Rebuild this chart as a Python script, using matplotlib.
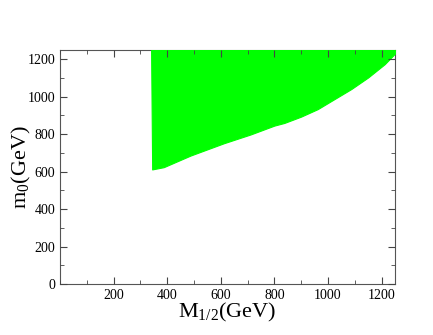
import matplotlib
matplotlib.use("Agg")
import matplotlib.pyplot as plt
from matplotlib.ticker import MultipleLocator

# lower edge of the allowed region
m_half = [340, 344, 387, 487, 612, 712, 800, 837, 900, 962, 1025, 1087, 1150, 1212, 1250]
m0_low = [1250, 612, 624, 686, 752, 799, 846, 860, 894, 934, 988, 1041, 1103, 1174, 1230]

plt.rcParams['font.family'] = ['Liberation Serif', 'DejaVu Serif']
plt.rcParams['mathtext.fontset'] = 'custom'
plt.rcParams['mathtext.rm'] = 'Liberation Serif'
plt.rcParams['mathtext.it'] = 'Liberation Serif:italic'

fig = plt.figure(figsize=(4.33, 3.35), dpi=100)
ax = fig.add_axes([0.1386, 0.152, 0.7734, 0.699])

ax.fill_between(m_half, m0_low, 1260, color='#00ff00', linewidth=0.8, edgecolor='#00ff00', zorder=1)

ax.set_xlim(0, 1250)
ax.set_ylim(0, 1250)
ax.xaxis.set_major_locator(MultipleLocator(200))
ax.xaxis.set_minor_locator(MultipleLocator(100))
ax.yaxis.set_major_locator(MultipleLocator(200))
ax.yaxis.set_minor_locator(MultipleLocator(100))
ax.set_xticks([200, 400, 600, 800, 1000, 1200])
ax.tick_params(which='both', direction='in', top=True, right=True, labelsize=10, color='#444444')
ax.tick_params(which='major', length=5)
ax.tick_params(which='minor', length=3)
for s in ax.spines.values():
    s.set_color('#555555')
    s.set_zorder(0)

ax.set_xlabel(r'M$_{\mathrm{1/2}}$(GeV)', fontsize=16, labelpad=-1)
ax.set_ylabel(r'm$_{\mathrm{0}}$(GeV)', fontsize=16, labelpad=-4)

fig.savefig('out.png', dpi=100)
